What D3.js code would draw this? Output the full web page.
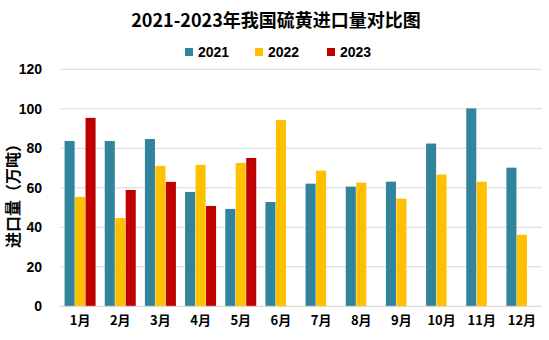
<!DOCTYPE html>
<html><head><meta charset="utf-8">
<script src="https://cdn.jsdelivr.net/npm/d3@7/dist/d3.min.js"></script>
<style>body{margin:0;background:#fff}svg{display:block}</style>
</head><body>
<svg id="c" width="549" height="340"></svg>
<script>
const months = ["1月","2月","3月","4月","5月","6月","7月","8月","9月","10月","11月","12月"];
const seriesNames = ["2021","2022","2023"];
const colors = ["#31849B","#FFC000","#C00000"];
const v2021 = [83.7,83.7,84.7,57.9,49.3,52.8,62.1,60.6,63.1,82.4,100.2,70.2];
const v2022 = [55.4,44.7,71.1,71.6,72.6,94.3,68.7,62.6,54.5,66.7,63.1,36.2];
const v2023 = [95.4,58.9,63.0,50.8,75.1,null,null,null,null,null,null,null];
const yTicks = [0,20,40,60,80,100,120];
const title = "2021-2023年我国硫黄进口量对比图";
const yTitle = "进口量（万吨）";

const series = [v2021, v2022, v2023];
const svg = d3.select("#c");
const font = "'Liberation Sans', Arial, 'Noto Sans CJK SC', sans-serif";
const cjk = "'Noto Sans CJK SC', 'Liberation Sans', sans-serif";

const x0 = d3.scaleBand().domain(months).range([60, 542]).paddingInner(0.228).paddingOuter(0.114);
const x1 = d3.scaleBand().domain(seriesNames).range([0, x0.bandwidth()]).paddingInner(0.04);
const y = d3.scaleLinear().domain([0,120]).range([306.3, 69.3]);

// grid
svg.append("g").selectAll("line").data(yTicks).join("line")
  .attr("x1",60).attr("x2",542).attr("y1",d=>y(d)).attr("y2",d=>y(d))
  .attr("stroke","#d9d9d9").attr("stroke-width",1);

// y axis labels
const yAxis = d3.axisLeft(y).tickValues(yTicks).tickSize(0).tickPadding(0);
const ga = svg.append("g").attr("transform","translate(42,0)").call(yAxis);
ga.select(".domain").remove();
ga.selectAll("text").attr("font-family",font).attr("font-size",14).attr("font-weight","bold").attr("fill","#000");

// bars
const g = svg.append("g");
months.forEach((m,i)=>{
  series.forEach((s,j)=>{
    if (s[i]==null) return;
    g.append("rect").attr("x", x0(m)+x1(seriesNames[j])).attr("width", x1.bandwidth())
      .attr("y", y(s[i])).attr("height", y(0)-y(s[i])).attr("fill", colors[j]);
  });
});

// x axis
const xAxis = d3.axisBottom(x0).tickSize(0).tickPadding(0);
const gx = svg.append("g").attr("transform","translate(0,320)").call(xAxis);
gx.select(".domain").remove();
gx.selectAll("text").attr("font-family",cjk).attr("font-size",13).attr("font-weight","bold").attr("fill","#000").attr("dy","0.35em");
svg.append("line").attr("x1",60).attr("x2",542).attr("y1",y(0)).attr("y2",y(0)).attr("stroke","#d9d9d9");

// title
svg.append("text").attr("x",276).attr("y",27).attr("text-anchor","middle")
  .attr("font-family",cjk).attr("font-size",18).attr("font-weight","bold").text(title);

// legend
const lx = [185, 255, 327];
seriesNames.forEach((n,j)=>{
  svg.append("rect").attr("x",lx[j]).attr("y",48).attr("width",8).attr("height",8).attr("fill",colors[j]);
  svg.append("text").attr("x",lx[j]+13).attr("y",57).attr("font-family",font).attr("font-size",14).attr("font-weight","bold").text(n);
});

// y title
svg.append("text").attr("transform","translate(19,192) rotate(-90)").attr("text-anchor","middle")
  .attr("font-family",cjk).attr("font-size",16).attr("font-weight","bold").text(yTitle);
</script>
</body></html>
